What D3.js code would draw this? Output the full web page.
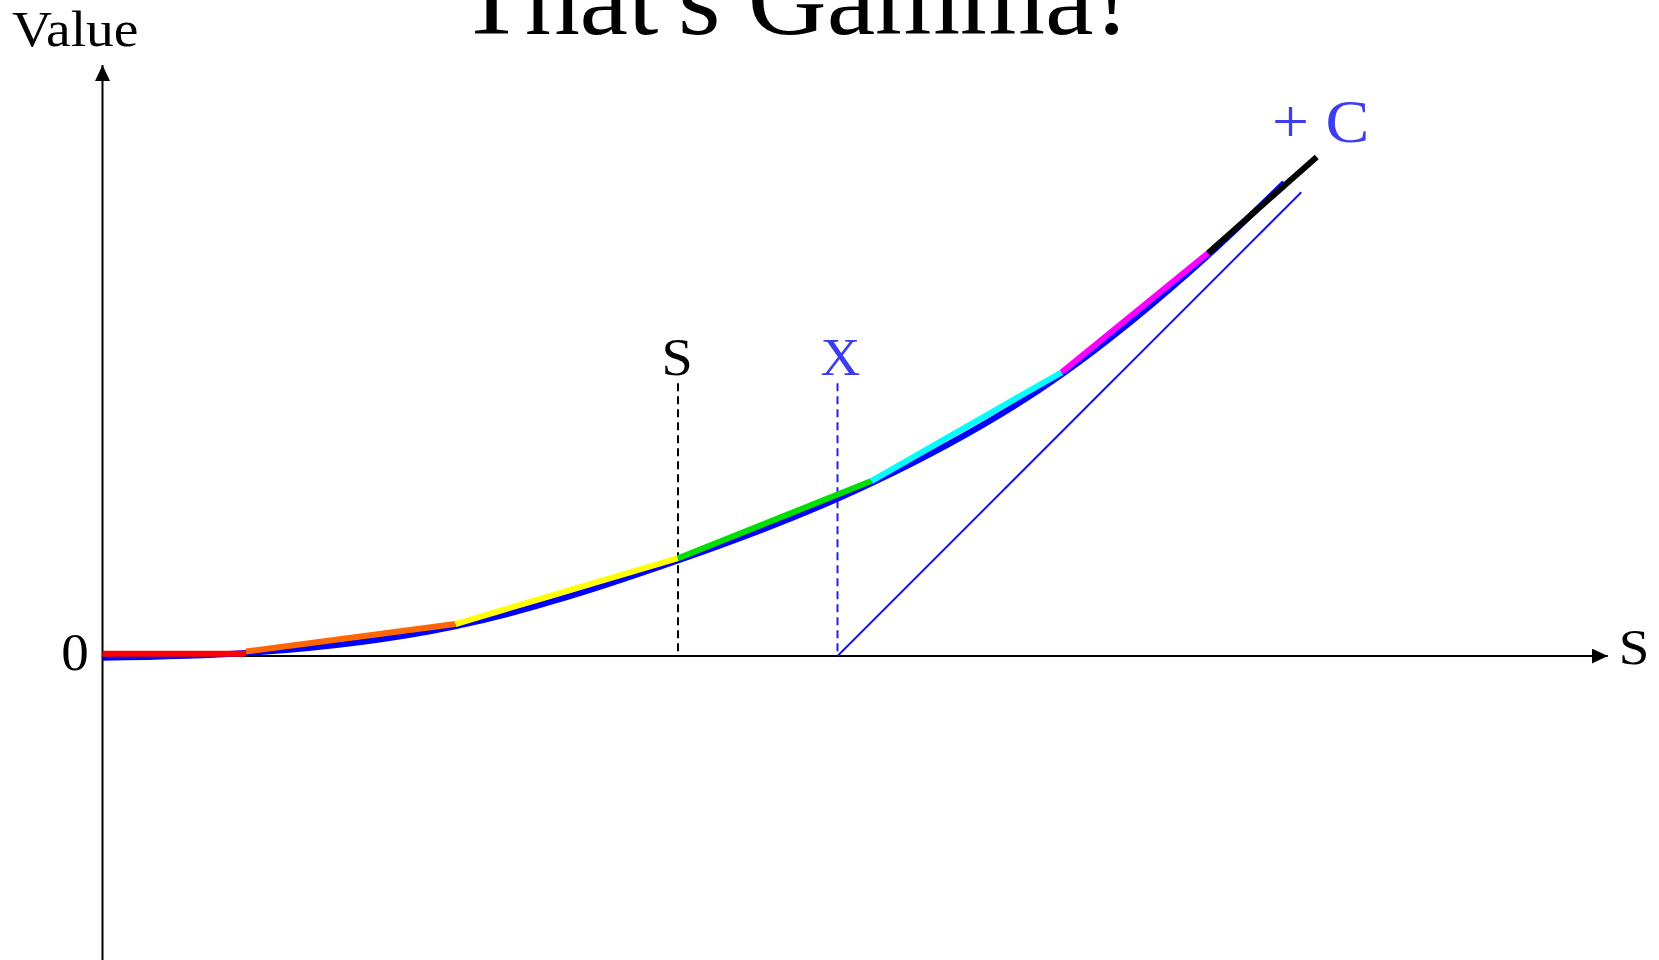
<!DOCTYPE html>
<html>
<head>
<meta charset="utf-8">
<script src="https://cdn.jsdelivr.net/npm/d3@7"></script>
<style>
  html, body { margin: 0; padding: 0; background: #fff; }
  svg { display: block; font-family: "Liberation Serif", "Times New Roman", serif; }
</style>
</head>
<body>
<svg id="chart" width="1659" height="960"></svg>
<script>
// Option value against the underlying price S, with strike X
const spot = 78.3;
const strike = 100;

// Axis extents (data units)
const sAxis = [0, 204.8];
const vAxis = [-41.5, 80.4];

// Smooth option value curve
const curveS = [0, 19.5, 48, 78.3, 100, 104.6, 130.5, 150.4, 160.8];
const curveV = [-0.25, 0.4, 4.05, 13.0, 21.4, 23.5, 38.3, 54.5, 64.4];

// Straight-line pieces that step along the curve
const segColors = ["#ff0000", "#ff6600", "#ffff00", "#00e000", "#00ffff", "#ff00ff", "#000000"];
const segS0 = [0, 19.5, 48, 78.3, 104.6, 130.5, 150.4];
const segS1 = [19.5, 48, 78.3, 104.6, 130.5, 150.4, 165.2];
const segV0 = [0.3, 0.6, 4.35, 13.3, 23.8, 38.6, 54.8];
const segV1 = [0.3, 4.35, 13.3, 23.8, 38.6, 54.8, 67.9];

// Payoff at expiry: max(S - X, 0)
const payoffS = [strike, 163.1];
const payoffV = [0, 63.1];

// Height reached by the dashed markers
const markerTop = 37.1;

const svg = d3.select("#chart");
const x = d3.scaleLinear().domain([0, 200]).range([102.5, 1572.5]);
const y = d3.scaleLinear().domain([0, 80]).range([656, 68]);

const blue = "#0000ff";
const labelBlue = "#3c3cf0";

// Text with a slight horizontal stretch
function label(px, py, str, size, color, anchor, sx) {
  return svg.append("text")
    .attr("transform", `translate(${px},${py}) scale(${sx},1)`)
    .attr("text-anchor", anchor)
    .attr("font-size", size)
    .attr("fill", color)
    .text(str);
}

// Arrowhead markers
const defs = svg.append("defs");
defs.append("marker")
  .attr("id", "arrow")
  .attr("viewBox", "0 0 16 15")
  .attr("refX", 16).attr("refY", 7.5)
  .attr("markerWidth", 16).attr("markerHeight", 15)
  .attr("markerUnits", "userSpaceOnUse")
  .attr("orient", "auto")
  .append("path").attr("d", "M0,0 L16,7.5 L0,15 Z").attr("fill", "#000");

// Title
label(794, 34, "That's Gamma!", 104, "#000", "middle", 1.05);

// Axes
svg.append("line")
  .attr("x1", x(0)).attr("x2", x(0))
  .attr("y1", y(vAxis[0])).attr("y2", y(vAxis[1]))
  .attr("stroke", "#000").attr("stroke-width", 2)
  .attr("marker-end", "url(#arrow)");
svg.append("line")
  .attr("x1", x(sAxis[0])).attr("x2", x(sAxis[1]))
  .attr("y1", y(0)).attr("y2", y(0))
  .attr("stroke", "#000").attr("stroke-width", 2)
  .attr("marker-end", "url(#arrow)");

label(12, 46, "Value", 51, "#000", "start", 1.09);
label(75, y(0) + 14, "0", 52, "#000", "middle", 1.06);
label(x(sAxis[1]) + 11, y(0) + 8, "S", 51, "#000", "start", 1.08);

// Dashed markers at the spot price and the strike
svg.append("line")
  .attr("x1", x(spot)).attr("x2", x(spot))
  .attr("y1", y(markerTop)).attr("y2", y(0))
  .attr("stroke", "#000").attr("stroke-width", 2)
  .attr("stroke-dasharray", "8,5");
svg.append("line")
  .attr("x1", x(strike)).attr("x2", x(strike))
  .attr("y1", y(markerTop)).attr("y2", y(0))
  .attr("stroke", "#2020ee").attr("stroke-width", 2)
  .attr("stroke-dasharray", "8,5");
label(x(spot) - 1, y(markerTop) - 8, "S", 52, "#000", "middle", 1.08);
label(x(strike) + 3, y(markerTop) - 8, "X", 52, labelBlue, "middle", 1.06);

// Payoff line
svg.append("line")
  .attr("x1", x(payoffS[0])).attr("y1", y(payoffV[0]))
  .attr("x2", x(payoffS[1])).attr("y2", y(payoffV[1]))
  .attr("stroke", "#1414e6").attr("stroke-width", 2);

// Value curve
const curvePts = curveS.map((s, i) => [s, curveV[i]]);
svg.append("path")
  .datum(curvePts)
  .attr("d", d3.line().x(d => x(d[0])).y(d => y(d[1])).curve(d3.curveMonotoneX))
  .attr("fill", "none").attr("stroke", blue).attr("stroke-width", 6);

// Coloured straight pieces
svg.append("g").selectAll("line")
  .data(segColors)
  .join("line")
  .attr("x1", (c, i) => x(segS0[i])).attr("y1", (c, i) => y(segV0[i]))
  .attr("x2", (c, i) => x(segS1[i])).attr("y2", (c, i) => y(segV1[i]))
  .attr("stroke", c => c).attr("stroke-width", 6);

// "+ C" label at the top of the curve
label(1272, 142, "+ C", 62, labelBlue, "start", 1.06);
</script>
</body>
</html>
